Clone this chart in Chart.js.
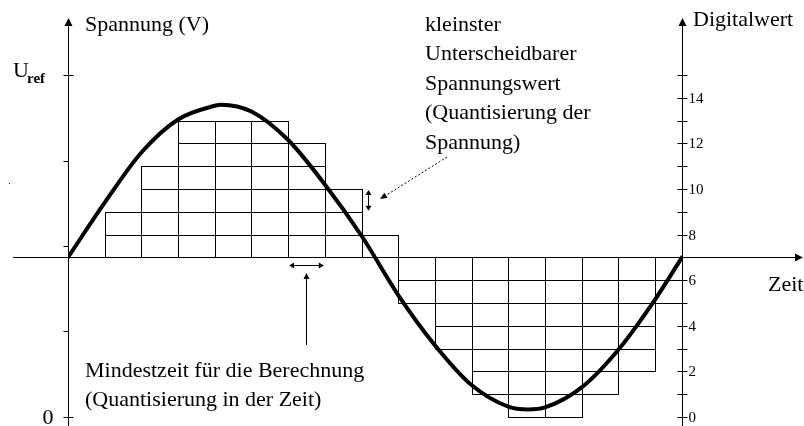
<!DOCTYPE html>
<html><head><meta charset="utf-8">
<script src="https://cdn.jsdelivr.net/npm/chart.js@4/dist/chart.umd.min.js"></script>
<style>html,body{margin:0;padding:0;background:#fff;}#wrap{width:804px;height:426px;}</style>
</head><body><div id="wrap"><canvas id="c" width="804" height="426"></canvas></div>
<script>
// ---- data ----
const sampleIndex   = [0,1,2,3,4,5,6,7,8,9,10,11,12,13,14,15,16];
const sampleLevels  = [7,9,11,13,13,13,12,10,8,5,3,1,0,0,1,2,5];   // quantized digital value per sample
const zeroLevel     = 7;                                            // digital value at 0 V line
const periodSamples = 16.735;                                       // one signal period, in sample steps
const curveX = [0,1,2,3,4,4.17,5,6,7,8,9,10,11,12,12.54,13,14,15,16,16.735];
const curveY = [7.0,9.4,11.6,13.05,13.65,13.7,13.4,12.15,10.2,7.95,5.35,3.15,1.4,0.45,0.33,0.42,1.3,2.95,5.15,7.0];
const digitalTicks  = [0,1,2,3,4,5,6,7,8,9,10,11,12,13,14,15];
const digitalLabels = ['0','','2','','4','','6','','8','','10','','12','','14',''];
const voltageTicks  = [0,3.75,7.5,11.25,15];
const voltageLabels = ['0','','','','Uref'];

// ---- build bar cells from the arrays ----
const cells = [];
sampleIndex.forEach((c, i) => {
  const lv = sampleLevels[i];
  const lo = Math.min(lv, zeroLevel), hi = Math.max(lv, zeroLevel);
  for (let k = lo; k < hi; k++) cells.push({x: c + 0.5, y: [k, k + 1]});
});
const curvePts = curveX.map((v, i) => ({x: v, y: curveY[i]}));

const SERIF = '"Liberation Serif", "Times New Roman", serif';

function head(ctx, tx, ty, ang, len, half) {
  ctx.beginPath();
  ctx.moveTo(tx, ty);
  ctx.lineTo(tx - len * Math.cos(ang) + half * Math.sin(ang), ty - len * Math.sin(ang) - half * Math.cos(ang));
  ctx.lineTo(tx - len * Math.cos(ang) - half * Math.sin(ang), ty - len * Math.sin(ang) + half * Math.cos(ang));
  ctx.closePath();
  ctx.fill();
}
function seg(ctx, a, b, c, d) { ctx.beginPath(); ctx.moveTo(a, b); ctx.lineTo(c, d); ctx.stroke(); }
const cr = v => Math.round(v) + 0.5;

// crisp 1px outlines for every bar element (cells), drawn before the curve
const cellOutline = {
  id: 'cellOutline',
  afterDatasetDraw(chart, args) {
    const meta = args.meta;
    if (meta.type !== 'bar') return;
    const {ctx, chartArea: a} = chart;
    ctx.save();
    ctx.beginPath(); ctx.rect(a.left, a.top, a.right - a.left, a.bottom - a.top); ctx.clip();
    ctx.strokeStyle = '#000'; ctx.lineWidth = 1;
    meta.data.forEach(el => {
      const p = el.getProps(['x', 'y', 'base', 'width'], true);
      const l = cr(p.x - p.width / 2), r = cr(p.x + p.width / 2);
      const t = cr(Math.min(p.y, p.base)), b = cr(Math.max(p.y, p.base));
      ctx.strokeRect(l, t, r - l, b - t);
    });
    ctx.restore();
  }
};

const decor = {
  id: 'decor',
  beforeDatasetsDraw(chart) {
    const {ctx, scales: {x, y}} = chart;
    const xl = cr(x.getPixelForValue(0)), xr = cr(x.getPixelForValue(periodSamples));
    const ya = cr(y.getPixelForValue(zeroLevel));
    const yTop = y.getPixelForValue(17.5);
    ctx.save();
    ctx.strokeStyle = '#000'; ctx.fillStyle = '#000'; ctx.lineWidth = 1;
    // horizontal time axis
    seg(ctx, 13, ya, 797, ya); head(ctx, 803, ya, 0, 8, 4);
    // left and right vertical axes
    seg(ctx, xl, 426, xl, yTop + 6); head(ctx, xl, yTop, -Math.PI / 2, 8, 4);
    seg(ctx, xr, 426, xr, yTop + 6); head(ctx, xr, yTop, -Math.PI / 2, 8, 4);
    // right digital ticks
    ctx.font = '15px ' + SERIF; ctx.textBaseline = 'middle'; ctx.textAlign = 'left';
    digitalTicks.forEach((t, i) => {
      const py = cr(y.getPixelForValue(t));
      seg(ctx, xr - 5, py, xr + 5, py);
      if (digitalLabels[i]) ctx.fillText(digitalLabels[i], xr + 6, py + 1);
    });
    // left voltage ticks
    voltageTicks.forEach((t, i) => {
      const py = cr(y.getPixelForValue(t));
      const full = voltageLabels[i] !== '';
      seg(ctx, xl - 5, py, full ? xl + 5 : xl, py);
    });
    ctx.textBaseline = 'alphabetic';
    ctx.font = '22px ' + SERIF; ctx.textAlign = 'right';
    ctx.fillText(voltageLabels[0], xl - 15, y.getPixelForValue(voltageTicks[0]) + 7);
    ctx.textAlign = 'left';
    const yu = y.getPixelForValue(voltageTicks[4]);
    ctx.fillText('U', 13, yu + 2);
    ctx.font = 'bold 15px ' + SERIF; ctx.fillText('ref', 27, yu + 8);
    ctx.restore();
  },
  afterDraw(chart) {
    const {ctx, scales: {x, y}} = chart;
    ctx.save();
    ctx.fillStyle = '#000'; ctx.strokeStyle = '#000'; ctx.lineWidth = 1;
    ctx.font = '22px ' + SERIF; ctx.textAlign = 'left'; ctx.textBaseline = 'alphabetic';
    ctx.fillText('Spannung (V)', 85, 31);
    ctx.fillText('Digitalwert', 693, 26);
    ctx.fillText('Zeit', 768, 291);
    ['kleinster', 'Unterscheidbarer', 'Spannungswert', '(Quantisierung der', 'Spannung)']
      .forEach((s, i) => ctx.fillText(s, 425, 31 + i * 29.4));
    ctx.fillText('Mindestzeit für die Berechnung', 85, 377);
    ctx.fillText('(Quantisierung in der Zeit)', 85, 406);
    // quantization step double arrow (vertical)
    const qx = cr(x.getPixelForValue(8.18));
    const q1 = y.getPixelForValue(10) + 1, q0 = y.getPixelForValue(9) - 1;
    seg(ctx, qx, q1 + 4, qx, q0 - 4);
    head(ctx, qx, q1, -Math.PI / 2, 5, 3); head(ctx, qx, q0, Math.PI / 2, 5, 3);
    // dashed pointer from text
    ctx.setLineDash([2, 2]);
    seg(ctx, 447, 157, 385, 196);
    ctx.setLineDash([]);
    head(ctx, 380, 199, Math.atan2(199 - 157, 380 - 447), 7, 3);
    // time step double arrow (horizontal)
    const hy = cr(y.getPixelForValue(6.67));
    const h0 = x.getPixelForValue(6) + 1, h1 = x.getPixelForValue(7) - 1;
    seg(ctx, h0 + 4, hy, h1 - 4, hy);
    head(ctx, h0, hy, Math.PI, 5, 3); head(ctx, h1, hy, 0, 5, 3);
    // pointer line up to time step
    const px = cr(x.getPixelForValue(6.5));
    const pTop = y.getPixelForValue(6.32), pBot = y.getPixelForValue(3.16);
    seg(ctx, px, pTop + 4, px, pBot);
    head(ctx, px, pTop, -Math.PI / 2, 6, 3);
    // small stray dot
    ctx.fillRect(9, 183, 1, 1);
    ctx.restore();
  }
};

new Chart(document.getElementById('c'), {
  type: 'bar',
  data: {
    datasets: [
      { type: 'line', data: curvePts, borderColor: '#000', borderWidth: 4, pointRadius: 0,
        cubicInterpolationMode: 'monotone', fill: false, order: 0, borderCapStyle: 'round', borderJoinStyle: 'round' },
      { type: 'bar', data: cells, backgroundColor: 'rgba(0,0,0,0)', borderColor: '#000', borderWidth: 0,
        borderSkipped: false, barPercentage: 1, categoryPercentage: 1, grouped: false,
        inflateAmount: 0, clip: 0, order: 1 }
    ]
  },
  options: {
    responsive: false, animation: false, events: [],
    layout: { padding: { left: 68, right: 122, top: 0, bottom: 0 } },
    plugins: { legend: { display: false }, tooltip: { enabled: false }, title: { display: false } },
    scales: {
      x: { type: 'linear', min: 0, max: periodSamples, display: false, offset: false,
           afterBuildTicks: (s) => { s.ticks = sampleIndex.map(v => ({ value: v })); } },
      y: { type: 'linear', min: -0.395, max: 18.29, display: false }
    }
  },
  plugins: [cellOutline, decor]
});
</script></body></html>
